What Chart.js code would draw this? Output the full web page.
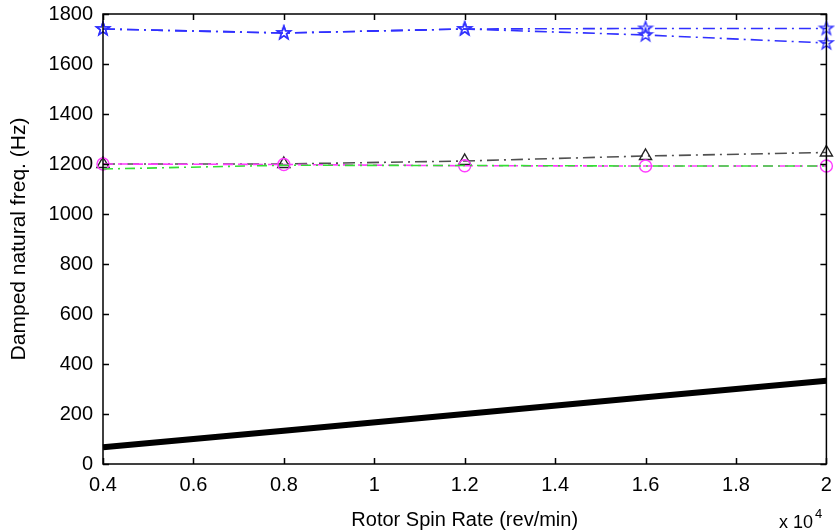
<!DOCTYPE html>
<html>
<head>
<meta charset="utf-8">
<script src="https://cdn.jsdelivr.net/npm/chart.js@4.4.1/dist/chart.umd.min.js"></script>
<style>
  html, body { margin: 0; padding: 0; background: #fff; }
  #wrap { width: 835px; height: 532px; }
</style>
</head>
<body>
<div id="wrap"><canvas id="freqChart" width="835" height="532"></canvas></div>
<script>
// spin rate in units of 10^4 rev/min
const spinRate = [0.4, 0.8, 1.2, 1.6, 2.0];

// damped natural frequencies (Hz)
const modeBlueA = [1740, 1724, 1740, 1742, 1742];
const modeBlueB = [1740, 1724, 1740, 1716, 1684];
const modeGray = [1200, 1200, 1212, 1232, 1246];
const modeGreen = [1180, 1195, 1194, 1192, 1192];
const modeMagenta = [1200, 1198, 1193, 1192, 1192];
const syncLine = [67, 133, 200, 267, 333];

const xTicks = [0.4, 0.6, 0.8, 1.0, 1.2, 1.4, 1.6, 1.8, 2.0];
const yTicks = [0, 200, 400, 600, 800, 1000, 1200, 1400, 1600, 1800];

const FONT = "'Liberation Sans', Arial, sans-serif";

function pts(ys) {
    return spinRate.map((x, i) => ({ x: x, y: ys[i] }));
}

// matlab-ish pentagram marker
function makeStar(color, r) {
    const size = Math.ceil(r * 2 + 4);
    const c = document.createElement('canvas');
    c.width = size;
    c.height = size;
    const g = c.getContext('2d');
    g.strokeStyle = color;
    g.lineWidth = 1.4;
    g.beginPath();
    for (let i = 0; i < 10; i++) {
        const rad = i % 2 === 0 ? r : r * 0.4;
        const a = -Math.PI / 2 + i * Math.PI / 5;
        const px = size / 2 + rad * Math.cos(a);
        const py = size / 2 + rad * Math.sin(a);
        if (i === 0) g.moveTo(px, py); else g.lineTo(px, py);
    }
    g.closePath();
    g.stroke();
    return c;
}

const blue = '#3030ff';
const starBlue = makeStar(blue, 7);

// no overhang padding, so the plot box lands where the layout says
function noOverhang(s) {
    s.paddingTop = 0;
    s.paddingBottom = 0;
    s.paddingLeft = 0;
    s.paddingRight = 0;
}

// inward ticks on all four sides plus the box, like the original figure
const boxPlugin = {
    id: 'boxTicks',
    afterDatasetsDraw(chart) {
        const { ctx, chartArea: a, scales } = chart;
        ctx.save();
        ctx.strokeStyle = '#000';
        ctx.lineWidth = 1.5;
        ctx.strokeRect(a.left, a.top, a.right - a.left, a.bottom - a.top);
        ctx.beginPath();
        xTicks.forEach(v => {
            const px = Math.round(scales.x.getPixelForValue(v)) + 0.5;
            ctx.moveTo(px, a.bottom); ctx.lineTo(px, a.bottom - 6);
            ctx.moveTo(px, a.top); ctx.lineTo(px, a.top + 6);
        });
        yTicks.forEach(v => {
            const py = Math.round(scales.y.getPixelForValue(v)) + 0.5;
            ctx.moveTo(a.left, py); ctx.lineTo(a.left + 6, py);
            ctx.moveTo(a.right, py); ctx.lineTo(a.right - 6, py);
        });
        ctx.stroke();

        // exponent label
        ctx.fillStyle = '#000';
        ctx.textBaseline = 'alphabetic';
        ctx.textAlign = 'left';
        ctx.font = '18px ' + FONT;
        ctx.fillText('x 10', 779, 528);
        ctx.font = '13px ' + FONT;
        ctx.fillText('4', 815, 518);
        ctx.restore();
    }
};

const ctx = document.getElementById('freqChart').getContext('2d');

new Chart(ctx, {
    type: 'line',
    data: {
        datasets: [
            {
                data: pts(syncLine),
                borderColor: '#000',
                borderWidth: 6,
                pointRadius: 0,
                fill: false
            },
            {
                data: pts(modeGreen),
                borderColor: '#33e033',
                borderWidth: 1.6,
                borderDash: [10, 5, 2, 5],
                pointRadius: 0,
                fill: false
            },
            {
                data: pts(modeMagenta),
                borderColor: '#ff3cff',
                borderWidth: 1.6,
                borderDash: [10, 5],
                pointStyle: 'circle',
                pointRadius: 6,
                pointBorderWidth: 1.4,
                pointBorderColor: '#ff3cff',
                pointBackgroundColor: 'rgba(0,0,0,0)',
                fill: false
            },
            {
                data: pts(modeGray),
                borderColor: '#505050',
                borderWidth: 1.6,
                borderDash: [12, 5, 2, 5],
                pointStyle: 'triangle',
                pointRadius: 7,
                pointBorderWidth: 1.4,
                pointBorderColor: '#222',
                pointBackgroundColor: 'rgba(0,0,0,0)',
                fill: false
            },
            {
                data: pts(modeBlueB),
                borderColor: blue,
                borderWidth: 1.6,
                borderDash: [12, 5, 2, 5],
                pointStyle: starBlue,
                pointRadius: 7,
                fill: false
            },
            {
                data: pts(modeBlueA),
                borderColor: blue,
                borderWidth: 1.6,
                borderDash: [12, 5, 2, 5],
                pointStyle: starBlue,
                pointRadius: 7,
                fill: false
            }
        ]
    },
    options: {
        responsive: false,
        animation: false,
        devicePixelRatio: 1,
        clip: false,
        layout: { padding: { left: 0, top: 14, right: 6, bottom: 0 } },
        plugins: {
            legend: { display: false },
            tooltip: { enabled: false }
        },
        elements: { line: { tension: 0 } },
        scales: {
            x: {
                type: 'linear',
                min: 0.4,
                max: 2,
                afterFit: s => { s.height = 68; noOverhang(s); },
                afterBuildTicks: s => { s.ticks = xTicks.map(v => ({ value: v })); },
                grid: { display: false, drawTicks: false },
                border: { display: false },
                ticks: {
                    padding: 9,
                    color: '#000',
                    font: { family: FONT, size: 20 },
                    callback: v => String(Math.round(v * 10) / 10)
                },
                title: {
                    display: true,
                    text: 'Rotor Spin Rate (rev/min)',
                    color: '#000',
                    font: { family: FONT, size: 20 },
                    padding: { top: 0, bottom: 0 }
                }
            },
            y: {
                min: 0,
                max: 1800,
                afterFit: s => { s.width = 103; noOverhang(s); },
                afterBuildTicks: s => { s.ticks = yTicks.map(v => ({ value: v })); },
                grid: { display: false, drawTicks: false },
                border: { display: false },
                ticks: {
                    padding: 10,
                    color: '#000',
                    font: { family: FONT, size: 20 },
                    callback: v => String(v)
                },
                title: {
                    display: true,
                    text: 'Damped natural freq. (Hz)',
                    color: '#000',
                    font: { family: FONT, size: 21 },
                    padding: { top: 7, bottom: 0 }
                }
            }
        }
    },
    plugins: [boxPlugin]
});
</script>
</body>
</html>
